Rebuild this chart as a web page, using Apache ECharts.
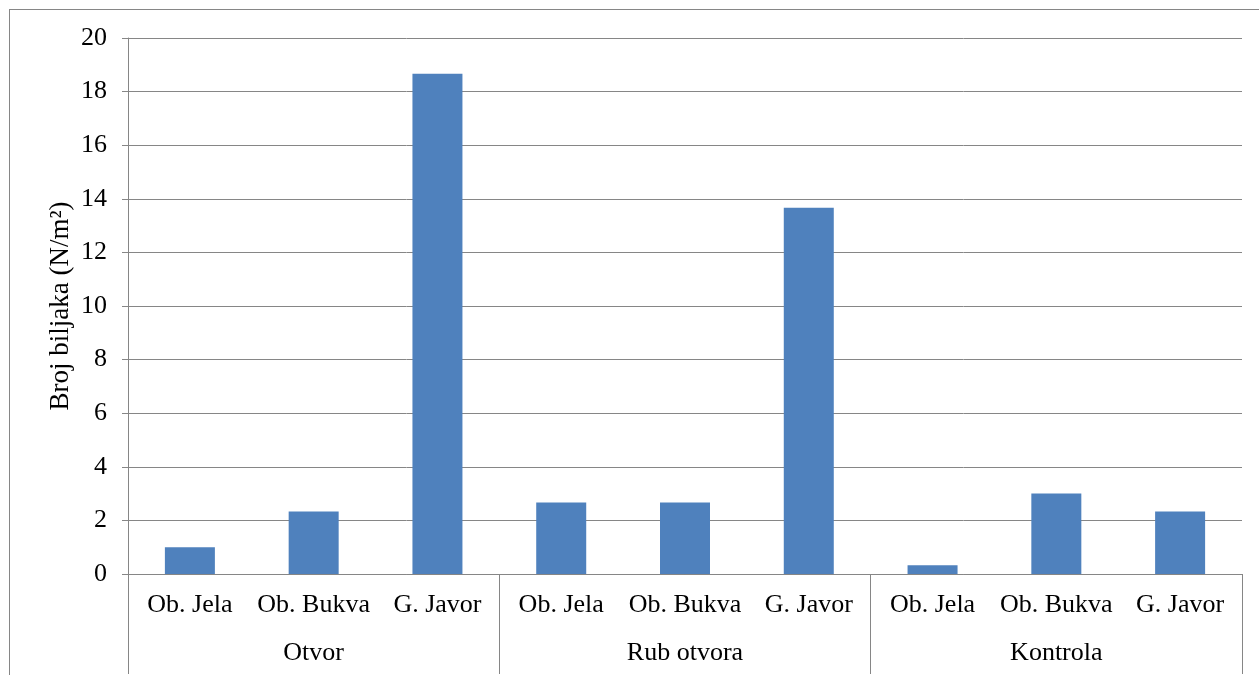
<!DOCTYPE html>
<html><head><meta charset="utf-8">
<script src="https://cdn.jsdelivr.net/npm/echarts@6/dist/echarts.min.js"></script>
<style>
html,body{margin:0;padding:0;background:#fff;overflow:hidden;width:1259px;height:675px;}
#frame{position:absolute;left:9px;top:9px;width:1300px;height:720px;border:1px solid #868686;}
#chart{position:absolute;left:10px;top:10px;width:1249px;height:665px;}
</style></head>
<body>
<div id="frame"></div>
<div id="chart"></div>
<script>
const species = ['Ob. Jela','Ob. Bukva','G. Javor','Ob. Jela','Ob. Bukva','G. Javor','Ob. Jela','Ob. Bukva','G. Javor'];
const groups = ['Otvor','Rub otvora','Kontrola'];
const values = [1.0, 2.33, 18.67, 2.67, 2.67, 13.67, 0.33, 3.0, 2.33];
const yTicks = {min:0, max:20, interval:2};

const font = 'Liberation Serif';
const fs = 26;
const chart = echarts.init(document.getElementById('chart'), null, {renderer:'canvas'});
chart.setOption({
  animation:false,
  grid:{left:118, top:28, width:1114, height:536, containLabel:false},
  xAxis:[
    {type:'category', data:species, position:'bottom',
     axisLine:{show:true, lineStyle:{color:'#868686', width:1}},
     axisTick:{show:false},
     axisLabel:{margin:18, fontFamily:font, fontSize:fs, color:'#000', interval:0}},
    {type:'category', data:groups, position:'bottom',
     axisLine:{show:false},
     axisTick:{show:true, length:100, lineStyle:{color:'#868686', width:1}},
     axisLabel:{margin:66, fontFamily:font, fontSize:fs, color:'#000', interval:0}}
  ],
  yAxis:{type:'value', min:yTicks.min, max:yTicks.max, interval:yTicks.interval,
    name:'Broj biljaka (N/m²)', nameLocation:'middle', nameGap:54, nameRotate:90,
    nameMoveOverlap:false,
    nameTextStyle:{fontFamily:font, fontSize:27, color:'#000'},
    axisLine:{show:true, lineStyle:{color:'#868686', width:1}},
    axisTick:{show:true, length:6, lineStyle:{color:'#868686'}},
    axisLabel:{margin:21, fontFamily:font, fontSize:fs, color:'#000'},
    splitLine:{show:true, lineStyle:{color:'#868686', width:1}}},
  series:[{type:'bar', xAxisIndex:0, data:values, barWidth:50,
    itemStyle:{color:'#4F81BD'}}]
});
</script>
</body></html>
